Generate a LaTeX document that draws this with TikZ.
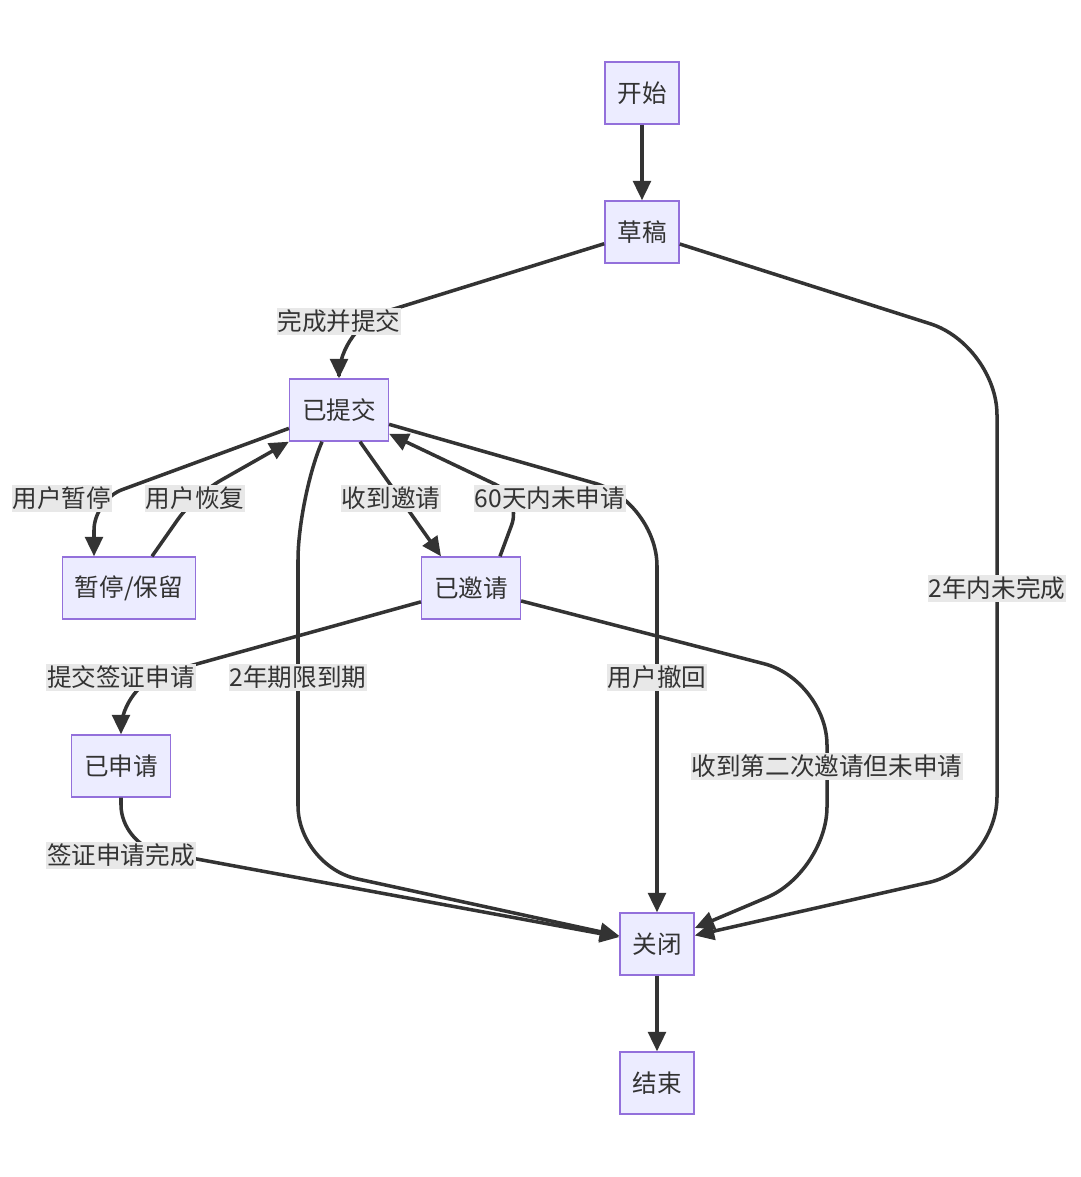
\documentclass[tikz,border=0pt]{standalone}
\usepackage{fontspec}
\setmainfont{Noto Sans CJK SC}
\usepackage{tikz}
\usetikzlibrary{arrows.meta}
\definecolor{boxfill}{HTML}{ECECFF}
\definecolor{boxline}{HTML}{9370DB}
\definecolor{ink}{HTML}{333333}
\definecolor{lblgray}{HTML}{E8E8E8}
\tikzstyle{state}=[draw=boxline, fill=boxfill, line width=0.8pt, text=ink, minimum height=1.24cm, inner xsep=0.25cm, font=\fontsize{14}{16}\selectfont]
\tikzstyle{edge}=[draw=ink, line width=2pt, -{Triangle[length=11pt,width=10pt]}]
\tikzstyle{lbl}=[fill=lblgray, text=ink, minimum height=0.54cm, inner xsep=0.5pt, inner ysep=0pt, font=\fontsize{14}{16}\selectfont]

\begin{document}
\begin{tikzpicture}
        [x=0.02cm,y=-0.02cm]
            \fill[white] (0,0) rectangle (1080,1177);
            \useasboundingbox (0,0) rectangle (1080,1177);
            \node [state] (start) at (642,93) {开始};
            \node [state] (draft) at (642,232) {草稿};
            \node [state] (submitted) at (339,410) {已提交};
            \node [state] (paused) at (129,588) {暂停/保留};
            \node [state] (invited) at (471,588) {已邀请};
            \node [state] (applied) at (121,766) {已申请};
            \node [state] (closed) at (657,944) {关闭};
            \node [state] (done) at (657,1083) {结束};
            \coordinate (kSubmit) at (339,326);
            \coordinate (kLateA) at (997,345);
            \coordinate (kLateB) at (997,867);
            \coordinate (kPause) at (94,500);
            \coordinate (kResume) at (195,495);
            \coordinate (kLapse) at (522,497);
            \coordinate (kWithdraw) at (657,501);
            \coordinate (kExpireA) at (298,500);
            \coordinate (kExpireB) at (298,866);
            \coordinate (kApply) at (121,685);
            \coordinate (kSecondA) at (827,680);
            \coordinate (kSecondB) at (827,872);
            \coordinate (kVisa) at (121,845);
            \draw [edge] (start) -- (draft);
            \draw [edge,rounded corners=1cm] (draft) -- (kSubmit) -- (submitted);
            \draw [edge,rounded corners=1.4cm] (draft) -- (kLateA) -- (kLateB) -- (closed);
            \draw [edge,rounded corners=0.6cm] (submitted) -- (kPause) -- (kPause |- paused.north);
            \draw [edge,rounded corners=0.6cm] ([xshift=0.46cm]paused.north) -- (kResume) -- (submitted.south west);
            \draw [edge] ([xshift=0.42cm]submitted.south) -- ([xshift=-0.6cm]invited.north);
            \draw [edge,rounded corners=0.6cm] ([xshift=0.58cm]invited.north) -- (kLapse) -- (submitted);
            \draw [edge,rounded corners=1.3cm] (submitted) -- (kWithdraw) -- (closed);
            \draw [edge,rounded corners=1.2cm] ([xshift=-0.34cm]submitted.south) -- (kExpireA) -- (kExpireB) -- (closed);
            \draw [edge,rounded corners=0.9cm] (invited) -- (kApply) -- (applied);
            \draw [edge,rounded corners=1.3cm] (invited) -- (kSecondA) -- (kSecondB) -- (closed);
            \draw [edge,rounded corners=0.8cm] (applied) -- (kVisa) -- (closed);
            \draw [edge] (closed) -- (done);
            \node [lbl] (lSubmit) at (339,321) {完成并提交};
            \node [lbl] (lPause) at (62,498) {用户暂停};
            \node [lbl] (lResume) at (195,498) {用户恢复};
            \node [lbl] (lInvite) at (391,498) {收到邀请};
            \node [lbl] (lLapse) at (550,498) {60天内未申请};
            \node [lbl] (lLate) at (997,588) {2年内未完成};
            \node [lbl] (lApply) at (121,677) {提交签证申请};
            \node [lbl] (lExpire) at (298,677) {2年期限到期};
            \node [lbl] (lWithdraw) at (657,677) {用户撤回};
            \node [lbl] (lSecond) at (827,766) {收到第二次邀请但未申请};
            \node [lbl] (lVisa) at (121,855) {签证申请完成};
        \end{tikzpicture}
\end{document}
